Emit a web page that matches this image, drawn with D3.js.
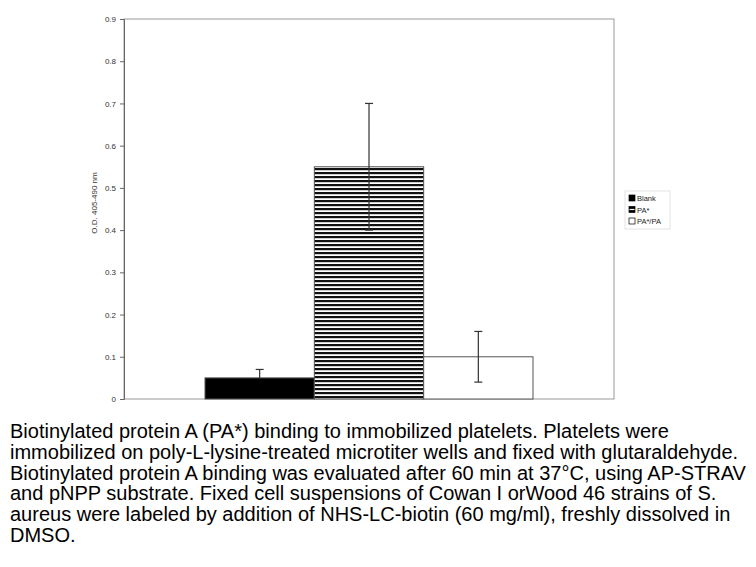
<!DOCTYPE html>
<html>
<head>
<meta charset="utf-8">
<script src="https://cdn.jsdelivr.net/npm/d3@7"></script>
<style>
  body { margin: 0; background: #fff; }
  svg { display: block; }
  .tick text { font-family: Arial, "Liberation Sans", sans-serif; font-size: 8px; fill: #333; }
</style>
</head>
<body>
<svg id="chart" width="756" height="567"></svg>
<script>
const series = ["Blank", "PA*", "PA*/PA"];
const values = [0.05, 0.55, 0.10];
const errLow = [0.05, 0.40, 0.04];
const errHigh = [0.07, 0.70, 0.16];
const yTicks = [0, 0.1, 0.2, 0.3, 0.4, 0.5, 0.6, 0.7, 0.8, 0.9];
const caption = [
  "Biotinylated protein A (PA*) binding to immobilized platelets. Platelets were",
  "immobilized on poly-L-lysine-treated microtiter wells and fixed with glutaraldehyde.",
  "Biotinylated protein A binding was evaluated after 60 min at 37°C, using AP-STRAV",
  "and pNPP substrate. Fixed cell suspensions of Cowan I orWood 46 strains of S.",
  "aureus were labeled by addition of NHS-LC-biotin (60 mg/ml), freshly dissolved in",
  "DMSO."
];

const plot = { left: 124, right: 614, top: 19, bottom: 399 };

const svg = d3.select("#chart");

// stripe pattern for PA*
const defs = svg.append("defs");
const pat = defs.append("pattern")
    .attr("id", "stripes")
    .attr("patternUnits", "userSpaceOnUse")
    .attr("width", 8).attr("height", 4);
pat.append("rect").attr("width", 8).attr("height", 4).attr("fill", "#fff");
pat.append("rect").attr("y", 0).attr("width", 8).attr("height", 2.2).attr("fill", "#111");

const fills = ["#000", "url(#stripes)", "#fff"];

let yScale = d3.scaleLinear().domain([0, 0.9]).range([plot.bottom, plot.top]);
let xScale = d3.scaleBand().domain(series).range([205, 533]).padding(0);

// frame
svg.append("rect")
    .attr("x", plot.left).attr("y", plot.top)
    .attr("width", plot.right - plot.left).attr("height", plot.bottom - plot.top)
    .attr("fill", "none").attr("stroke", "#999").attr("stroke-width", 1);

// y axis
let yAxis = svg.append("g")
    .attr("transform", `translate(${plot.left}, 0)`)
    .call(d3.axisLeft(yScale).tickValues(yTicks).tickSize(4).tickPadding(4)
        .tickFormat(d => d === 0 ? "0" : d3.format(".1f")(d)));
yAxis.select(".domain").attr("stroke", "#666");
yAxis.selectAll(".tick line").attr("stroke", "#666");

svg.append("text")
    .attr("transform", `translate(97, 203) rotate(-90)`)
    .attr("text-anchor", "middle")
    .attr("font-family", "Arial, 'Liberation Sans', sans-serif")
    .attr("font-size", 8).attr("fill", "#333")
    .text("O.D. 405-490 nm");

// bars
svg.selectAll("rect.bar")
    .data(series)
    .join("rect")
    .attr("class", "bar")
    .attr("x", d => xScale(d))
    .attr("y", (d, i) => yScale(values[i]))
    .attr("width", xScale.bandwidth())
    .attr("height", (d, i) => yScale(0) - yScale(values[i]))
    .attr("fill", (d, i) => fills[i])
    .attr("stroke", "#555").attr("stroke-width", 1);

// error bars
const eb = svg.append("g").attr("stroke", "#333").attr("stroke-width", 1.2);
series.forEach((s, i) => {
    const cx = xScale(s) + xScale.bandwidth() / 2;
    eb.append("line").attr("x1", cx).attr("x2", cx)
        .attr("y1", yScale(errLow[i])).attr("y2", yScale(errHigh[i]));
    eb.append("line").attr("x1", cx - 4).attr("x2", cx + 4)
        .attr("y1", yScale(errHigh[i])).attr("y2", yScale(errHigh[i]));
    if (errLow[i] < values[i]) {
        eb.append("line").attr("x1", cx - 4).attr("x2", cx + 4)
            .attr("y1", yScale(errLow[i])).attr("y2", yScale(errLow[i]));
    }
});

// legend
const lg = svg.append("g").attr("transform", "translate(625, 191)");
lg.append("rect").attr("width", 45).attr("height", 38)
    .attr("fill", "#fff").attr("stroke", "#ddd").attr("stroke-width", 0.8);
const legendFills = ["#000", "#000", "#fff"];
series.forEach((s, i) => {
    const row = lg.append("g").attr("transform", `translate(4, ${4 + i * 11.5})`);
    row.append("rect").attr("width", 6).attr("height", 6)
        .attr("fill", legendFills[i]).attr("stroke", "#000").attr("stroke-width", 0.7);
    if (i === 1) {
        row.append("line").attr("x1", 0.5).attr("x2", 5.5).attr("y1", 3).attr("y2", 3)
            .attr("stroke", "#fff").attr("stroke-width", 1.2);
    }
    row.append("text").attr("x", 8).attr("y", 6)
        .attr("font-family", "Arial, 'Liberation Sans', sans-serif")
        .attr("font-size", 7.5).attr("fill", "#222")
        .text(s);
});

// caption
svg.append("g").selectAll("text")
    .data(caption)
    .join("text")
    .attr("x", 10)
    .attr("y", (d, i) => 438 + i * 20.8)
    .attr("font-family", "Arial, 'Liberation Sans', sans-serif")
    .attr("font-size", 20)
    .attr("fill", "#000")
    .text(d => d);
</script>
</body>
</html>
